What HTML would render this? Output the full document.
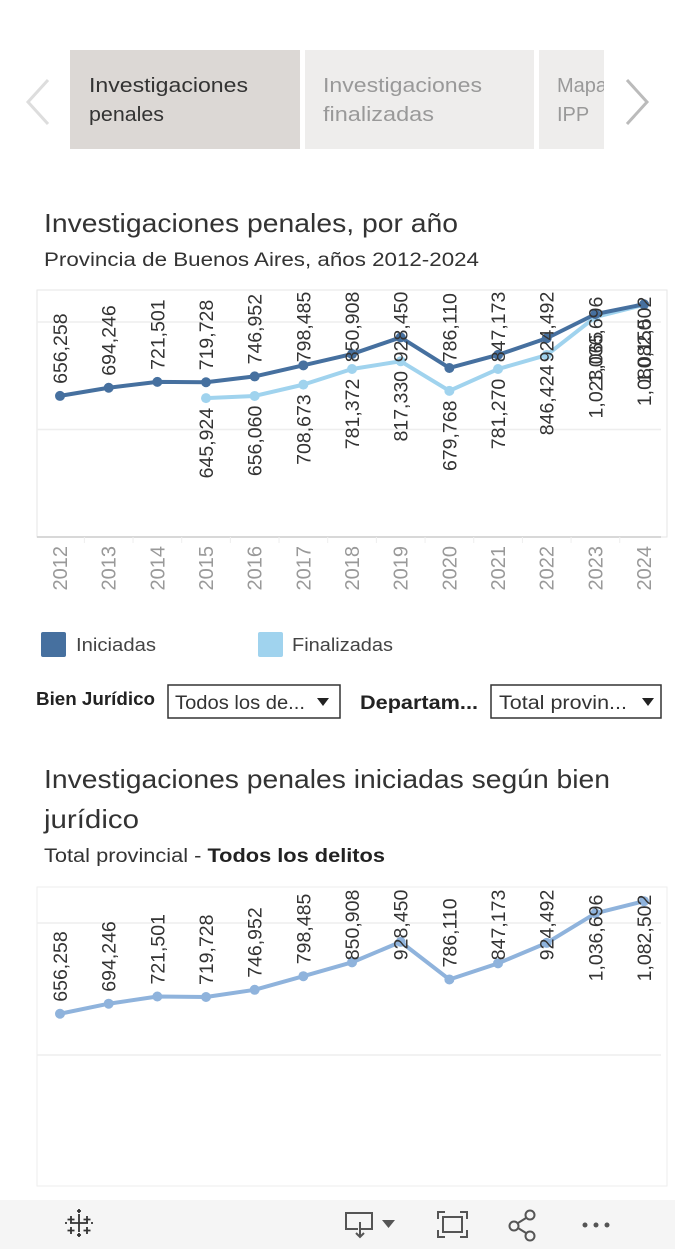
<!DOCTYPE html>
<html><head><meta charset="utf-8"><style>
html,body{margin:0;padding:0;background:#fff;width:675px;height:1249px;overflow:hidden}
svg{display:block;font-family:"Liberation Sans",sans-serif}
</style></head><body>
<svg id="root" width="675" height="1249" viewBox="0 0 675 1249" xmlns="http://www.w3.org/2000/svg">
<polyline points="48,80 28,102 48,124" fill="none" stroke="#ddd" stroke-width="3"/>
<g>
<rect x="70" y="50" width="230" height="99" fill="#dcd8d5"/>
<text x="89" y="92" font-size="20" fill="#333" textLength="159" lengthAdjust="spacingAndGlyphs">Investigaciones</text>
<text x="89" y="121" font-size="20" fill="#333" textLength="75" lengthAdjust="spacingAndGlyphs">penales</text>
</g>
<g>
<rect x="305" y="50" width="229" height="99" fill="#eeedec"/>
<text x="323" y="92" font-size="20" fill="#999" textLength="159" lengthAdjust="spacingAndGlyphs">Investigaciones</text>
<text x="323" y="121" font-size="20" fill="#999" textLength="111" lengthAdjust="spacingAndGlyphs">finalizadas</text>
</g>
<g>
<svg x="539" y="50" width="65" height="99"><rect width="65" height="99" fill="#eeedec"/>
<text x="18" y="42" font-size="20" fill="#999">Mapa</text>
<text x="18" y="71" font-size="20" fill="#999">IPP</text></svg>
</g>
<polyline points="627,80 647,102 627,124" fill="none" stroke="#bbb" stroke-width="3"/>

<text x="44" y="232" font-size="26" fill="#333" textLength="414" lengthAdjust="spacingAndGlyphs">Investigaciones penales, por año</text>
<text x="44" y="266" font-size="19" fill="#333" textLength="435" lengthAdjust="spacingAndGlyphs">Provincia de Buenos Aires, años 2012-2024</text>

<g id="chart1"></g>

<g>
<g><rect x="41" y="632" width="25" height="25" rx="2" fill="#46709f"/><text x="76" y="651" font-size="18" fill="#444" textLength="80" lengthAdjust="spacingAndGlyphs">Iniciadas</text></g>
<g><rect x="258" y="632" width="25" height="25" rx="2" fill="#a0d3ee"/><text x="292" y="651" font-size="18" fill="#444" textLength="101" lengthAdjust="spacingAndGlyphs">Finalizadas</text></g>
</g>

<text x="36" y="705" font-size="18" fill="#222" font-weight="bold" textLength="119" lengthAdjust="spacingAndGlyphs">Bien Jurídico</text>
<g>
<rect x="168" y="685" width="172" height="33" fill="#fff" stroke="#333" stroke-width="1.5"/>
<text x="175" y="709" font-size="19" fill="#333" textLength="130" lengthAdjust="spacingAndGlyphs">Todos los de...</text>
<polygon points="317,698 329,698 323,706" fill="#222"/>
</g>
<text x="360" y="709" font-size="19" fill="#222" font-weight="bold" textLength="118" lengthAdjust="spacingAndGlyphs">Departam...</text>
<g>
<rect x="491" y="685" width="170" height="33" fill="#fff" stroke="#333" stroke-width="1.5"/>
<text x="499" y="709" font-size="19" fill="#333" textLength="128" lengthAdjust="spacingAndGlyphs">Total provin...</text>
<polygon points="642,698 654,698 648,706" fill="#222"/>
</g>

<text x="44" y="788" font-size="26" fill="#333" textLength="566" lengthAdjust="spacingAndGlyphs">Investigaciones penales iniciadas según bien</text>
<text x="44" y="828" font-size="26" fill="#333" textLength="95" lengthAdjust="spacingAndGlyphs">jurídico</text>
<text x="44" y="862" font-size="19" fill="#333" textLength="341" lengthAdjust="spacingAndGlyphs">Total provincial - <tspan font-weight="bold" fill="#222">Todos los delitos</tspan></text>

<g id="chart2"></g>

<g>
<rect x="0" y="1200" width="675" height="49" fill="#f5f5f5"/>
<g stroke="#333" stroke-width="1.8">
<path d="M79,1214v18M70,1223h18M71,1216v7M67.5,1219.5h7M87,1216v7M83.5,1219.5h7M71,1227v7M67.5,1230.5h7M87,1227v7M83.5,1230.5h7M79,1209v4M77,1211h4M79,1233v4M77,1235h4M65,1223h2M91,1223h2"/>
</g>
<g fill="none" stroke="#555" stroke-width="2">
<path d="M358,1229h-12v-16h26v16h-12M360,1222v15M356,1233l4,4 4,-4"/>
<polygon points="382,1220 395,1220 388.5,1228" fill="#555" stroke="none"/>
</g>
<g fill="none" stroke="#555" stroke-width="2">
<path d="M438,1219v-7h7M460,1212h7v7M467,1230v7h-7M445,1237h-7v-7"/><rect x="443" y="1217" width="19" height="15"/>
</g>
<g fill="none" stroke="#555" stroke-width="2">
<circle cx="530" cy="1215" r="4.5"/><circle cx="514" cy="1226" r="4.5"/><circle cx="530" cy="1236" r="4.5"/><path d="M518,1223l8,-5M518,1228l8,5"/>
</g>
<g fill="#555"><circle cx="585" cy="1225" r="2.5"/><circle cx="596" cy="1225" r="2.5"/><circle cx="607" cy="1225" r="2.5"/></g>
</g>
</svg>
<script>
const years = [2012,2013,2014,2015,2016,2017,2018,2019,2020,2021,2022,2023,2024];
const iniciadas = [656258,694246,721501,719728,746952,798485,850908,928450,786110,847173,924492,1036696,1082502];
const finalizadas = [null,null,null,645924,656060,708673,781372,817330,679768,781270,846424,1023065,1080150];
const chart2Values = [656258,694246,721501,719728,746952,798485,850908,928450,786110,847173,924492,1036696,1082502];
const gridValues = [500000,1000000];
const NS = 'http://www.w3.org/2000/svg';
const fmt = v => v.toLocaleString('en-US');
const LABEL_FS = 19.5;
function mk(tag, attrs, parent){const e=document.createElementNS(NS,tag);for(const k in attrs)e.setAttribute(k,attrs[k]);parent.appendChild(e);return e;}
function xAt(i){return 60 + i*48.67;}
function labelLen(s){return s.length*10.6 - 5;}

// chart 1
(function(){
  const g=document.getElementById('chart1');
  const top=290,bot=537,zeroY=537,pxPer=107.5/500000;
  const y=v=>zeroY - v*pxPer;
  const frame=mk('rect',{x:37,y:top,width:630,height:bot-top,fill:'none',stroke:'#e6e6e6'},g);
  
  
  mk('line',{x1:37,y1:bot,x2:661,y2:bot,stroke:'#ccc','stroke-width':1.5},g);
  gridValues.forEach(v=>{const l=mk('line',{x1:37,y1:y(v),x2:661,y2:y(v),stroke:'#eee','stroke-width':1.5},g);
    
    });
  years.forEach((yr,i)=>{
    const t=mk('text',{x:0,y:0,'font-size':20,fill:'#999','text-anchor':'end',transform:`translate(${xAt(i)+7},${546}) rotate(-90)`},g);
    t.textContent=yr;
    
    
    if(i>0){mk('line',{x1:xAt(i)-24.3,y1:bot,x2:xAt(i)-24.3,y2:bot+6,stroke:'#eee'},g);}
  });
  function series(vals,color,name,above){
    const pts=[];vals.forEach((v,i)=>{if(v!=null)pts.push([xAt(i),y(v),v]);});
    const pl=mk('polyline',{points:pts.map(p=>p[0]+','+p[1]).join(' '),fill:'none',stroke:color,'stroke-width':4,'stroke-linejoin':'round'},g);
    
    
    pts.forEach(p=>{const c=mk('circle',{cx:p[0],cy:p[1],r:5,fill:color},g);
      
      });
    pts.forEach(p=>{
      const s=fmt(p[2]); const len=labelLen(s);
      let startY = above ? Math.max(p[1]-12, top+3+len) : p[1]+11+len;
      const t=mk('text',{x:0,y:0,'font-size':LABEL_FS,fill:'#333','text-anchor':'start',transform:`translate(${p[0]+7},${startY}) rotate(-90)`},g);
      t.textContent=s;
      
      
    });
  }
  series(finalizadas,'#a0d3ee','finalizadas',false);
  series(iniciadas,'#46709f','iniciadas',true);
})();

// chart 2
(function(){
  const g=document.getElementById('chart2');
  const top=887,bot=1186,zeroY=1187,pxPer=132/500000;
  const y=v=>zeroY - v*pxPer;
  const frame=mk('rect',{x:37,y:top,width:630,height:bot-top,fill:'none',stroke:'#eee'},g);
  
  
  gridValues.forEach(v=>{const l=mk('line',{x1:37,y1:y(v),x2:661,y2:y(v),stroke:'#eee','stroke-width':1.5},g);
    
    });
  const pts=chart2Values.map((v,i)=>[xAt(i),y(v),v]);
  const pl=mk('polyline',{points:pts.map(p=>p[0]+','+p[1]).join(' '),fill:'none',stroke:'#8fb3dc','stroke-width':4,'stroke-linejoin':'round'},g);
  
  
  pts.forEach(p=>{const c=mk('circle',{cx:p[0],cy:p[1],r:5,fill:'#8fb3dc'},g);
    
    
    const s=fmt(p[2]); const len=labelLen(s);
    const startY=Math.max(p[1]-12, top+4+len);
    const t=mk('text',{x:0,y:0,'font-size':LABEL_FS,fill:'#333','text-anchor':'start',transform:`translate(${p[0]+7},${startY}) rotate(-90)`},g);
    t.textContent=s;
    
    });
})();
</script>
</body></html>
